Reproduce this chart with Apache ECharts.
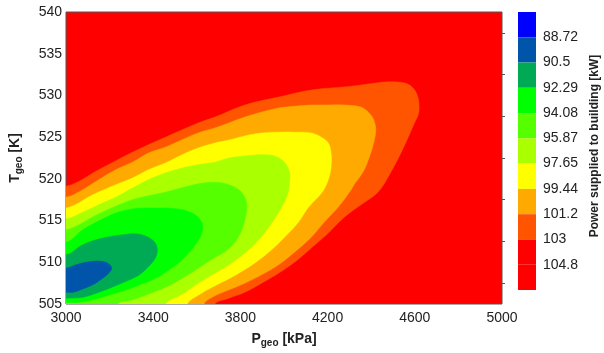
<!DOCTYPE html>
<html>
<head>
<meta charset="utf-8">
<script src="https://cdn.jsdelivr.net/npm/echarts@6/dist/echarts.min.js"></script>
<style>
  html, body { margin: 0; padding: 0; background: #fff; }
  #chart { width: 604px; height: 353px; }
</style>
</head>
<body>
<div id="chart"></div>
<script>
// contour levels (kW) shown on the colour bar
const levels = ['88.72', '90.5', '92.29', '94.08', '95.87', '97.65', '99.44', '101.2', '103', '104.8'];
const bandColors = ['#0000ff', '#0055aa', '#00aa55', '#00ff00', '#55ff00', '#aaff00', '#ffff00', '#ffaa00', '#ff5500', '#ff0000', '#ff0000'];

// contour lines, [P kPa, T K]; first point on the left edge,
// last point on the left or bottom edge
const c103 = [[3000,519.1],[3150,521.1],[3305,523.2],[3456,525.0],[3606,526.7],[3683,527.4],[3820,528.85],[3975,529.8],[4125,530.65],[4308,531.1],[4458,531.6],[4520,531.62],[4565,531.4],[4595,530.8],[4612,530.0],[4619,529.0],[4617,527.8],[4595,526.5],[4549,523.8],[4490,520.8],[4431,518.4],[4353,516.9],[4276,515.4],[4203,513.5],[4125,511.7],[4048,510.0],[3975,508.7],[3897,507.5],[3820,506.4],[3747,505.7],[3683,505.0]];
const c101 = [[3000,517.8],[3077,518.7],[3150,519.9],[3228,521.1],[3305,522.0],[3378,523.1],[3456,523.8],[3533,524.7],[3606,525.5],[3683,526.1],[3747,526.7],[3820,527.4],[3897,528.0],[3975,528.5],[4048,528.7],[4125,528.85],[4203,528.85],[4276,528.85],[4353,528.6],[4390,527.9],[4412,527.05],[4421,525.85],[4412,524.4],[4390,522.5],[4362,520.8],[4321,519.3],[4308,518.7],[4248,516.6],[4184,514.8],[4125,513.0],[4048,511.2],[3975,509.7],[3897,508.5],[3820,507.5],[3747,506.7],[3670,505.8],[3633,505.0]];
const c99 = [[3000,516.5],[3123,518.1],[3228,519.3],[3305,520.1],[3378,521.1],[3456,521.9],[3533,522.9],[3606,523.7],[3683,524.3],[3747,524.65],[3820,525.15],[3897,525.5],[3975,525.6],[4048,525.6],[4125,525.5],[4171,525.0],[4203,524.3],[4216,523.1],[4216,521.4],[4203,519.9],[4175,518.4],[4112,516.6],[4066,514.8],[4002,513.0],[3943,511.5],[3866,509.9],[3793,508.7],[3715,507.6],[3670,507.0],[3610,506.1],[3556,505.0]];
const c97 = [[3000,515.2],[3077,516.0],[3150,516.9],[3228,517.8],[3305,518.9],[3378,519.9],[3456,520.7],[3533,521.3],[3606,521.7],[3683,522.0],[3747,522.5],[3820,522.75],[3897,522.9],[3957,522.75],[4002,522.0],[4025,520.8],[4025,519.5],[4016,518.1],[3989,516.6],[3943,514.7],[3884,512.7],[3820,511.1],[3747,509.7],[3670,508.5],[3601,507.4],[3533,506.2],[3456,505.0]];
const c95 = [[3000,513.9],[3150,515.8],[3305,517.5],[3456,518.4],[3606,519.4],[3683,519.6],[3747,519.3],[3793,518.7],[3820,517.8],[3829,516.9],[3825,515.7],[3806,513.9],[3774,512.4],[3724,511.2],[3670,510.4],[3606,509.3],[3533,508.1],[3456,507.0],[3378,506.2],[3305,505.5],[3237,505.0]];
const c94 = [[3000,512.4],[3077,513.9],[3150,514.95],[3228,515.9],[3305,516.4],[3383,516.5],[3456,516.5],[3533,516.3],[3592,515.7],[3624,514.7],[3624,513.6],[3601,512.4],[3565,511.2],[3519,510.0],[3456,508.8],[3396,507.9],[3337,507.3],[3287,506.8],[3214,506.2],[3137,505.6],[3059,505.2],[3000,505.2]];
const c92 = [[3000,510.9],[3077,512.1],[3169,512.9],[3260,513.3],[3328,513.4],[3378,513.0],[3410,512.3],[3419,511.5],[3410,510.5],[3383,509.6],[3342,508.6],[3292,507.9],[3228,507.2],[3150,506.4],[3077,505.8],[3000,505.7]];
const c90 = [[3000,509.3],[3046,509.7],[3091,510.0],[3150,510.15],[3191,509.9],[3210,509.3],[3196,508.7],[3169,508.1],[3123,507.3],[3077,506.8],[3032,506.4],[3000,506.4]];

const contours = [c103, c101, c99, c97, c95, c94, c92, c90];
const fillColors = ['#ff5500', '#ffaa00', '#ffff00', '#aaff00', '#55ff00', '#00ff00', '#00aa55', '#0055aa'];

const font = "'Liberation Sans', Arial, sans-serif";
const txt = '#222';

const chart = echarts.init(document.getElementById('chart'));

// closes a contour outside the plot (left / below), the grid clip hides it
function closePath(pts) {
  const first = pts[0];
  const last = pts[pts.length - 1];
  const out = pts.slice();
  if (last[0] > 3000) {
    out.push([last[0], 503]);
    out.push([2800, 503]);
  } else {
    out.push([2800, last[1]]);
  }
  out.push([2800, first[1]]);
  return out;
}

function contourSeries(pts, color) {
  const ring = closePath(pts);
  return {
    type: 'custom',
    xAxisIndex: 0,
    yAxisIndex: 0,
    silent: true,
    clip: true,
    data: [[3000, 505]],
    renderItem: function (params, api) {
      return {
        type: 'polygon',
        shape: { points: ring.map(p => api.coord(p)), smooth: 0.35 },
        style: { fill: color, stroke: color, lineWidth: 0.5 }
      };
    }
  };
}

const series = contours.map((c, i) => contourSeries(c, fillColors[i]));

// colour bar
series.push({
  type: 'custom',
  xAxisIndex: 1,
  yAxisIndex: 1,
  silent: true,
  data: bandColors.map((c, i) => [0, i]),
  renderItem: function (params, api) {
    const i = api.value(1);
    const top = api.coord([0, i]);
    const bot = api.coord([0, i + 1]);
    return {
      type: 'rect',
      shape: { x: params.coordSys.x, y: top[1], width: params.coordSys.width, height: bot[1] - top[1] },
      style: { fill: bandColors[i] }
    };
  }
});

const nameRich = {
  m: { fontSize: 14, fontWeight: 'bold', color: txt, fontFamily: font },
  s: { fontSize: 10, fontWeight: 'bold', color: txt, fontFamily: font, padding: [8, 0, 0, 0] }
};

const option = {
  animation: false,
  textStyle: { fontFamily: font },
  grid: [
    { left: 63, top: 12, width: 439, height: 292, show: true, backgroundColor: '#ff0000', borderColor: '#555', borderWidth: 1 },
    { left: 518, top: 12, width: 18, height: 278 }
  ],
  xAxis: [
    {
      type: 'value', gridIndex: 0, min: 3000, max: 5000, interval: 400,
      name: '{m|P}{s|geo}{m| [kPa]}', nameLocation: 'middle', nameGap: 26,
      nameTextStyle: { rich: nameRich },
      axisLine: { show: false }, axisTick: { show: false }, splitLine: { show: false },
      axisLabel: { fontSize: 14, color: txt, margin: 7, formatter: v => String(v) }
    },
    { type: 'value', gridIndex: 1, min: 0, max: 1, show: false }
  ],
  yAxis: [
    {
      type: 'value', gridIndex: 0, min: 505, max: 540, interval: 5,
      name: '{m|T}{s|geo}{m| [K]}', nameLocation: 'middle', nameGap: 42, nameRotate: 90,
      nameTextStyle: { rich: nameRich },
      axisLine: { show: false }, axisTick: { show: false }, splitLine: { show: false },
      axisLabel: { fontSize: 14, color: txt, margin: 4 }
    },
    {
      type: 'value', gridIndex: 1, min: 0, max: 11, interval: 1, inverse: true, position: 'right',
      axisLine: { show: false }, axisTick: { show: false }, splitLine: { show: false },
      axisLabel: { fontSize: 14, color: txt, margin: 7, formatter: v => levels[v - 1] || '' }
    },
    {
      type: 'value', gridIndex: 0, min: 505, max: 540, interval: 5, position: 'right', z: 10,
      axisLine: { show: false }, axisLabel: { show: false }, splitLine: { show: false },
      axisTick: { show: false },
      minorTick: { show: true, splitNumber: 2, length: 3, lineStyle: { color: '#555' } }
    }
  ],
  graphic: [
    {
      type: 'text', x: 595, y: 146, rotation: Math.PI / 2,
      style: {
        text: 'Power supplied to building [kW]', fontSize: 12, fontWeight: 'bold',
        fontFamily: font, fill: txt, align: 'center', verticalAlign: 'middle'
      }
    }
  ],
  series: series
};

chart.setOption(option);
</script>
</body>
</html>
